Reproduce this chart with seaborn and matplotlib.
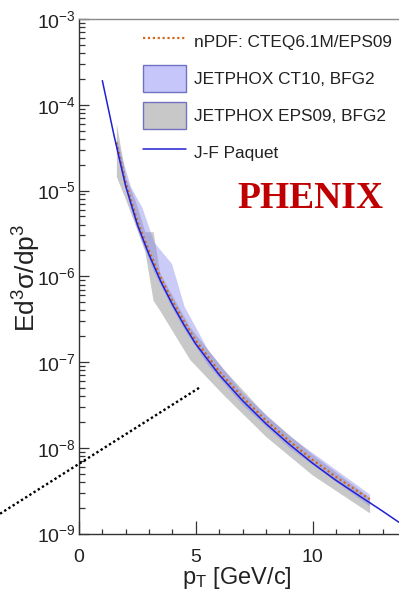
import numpy as np
import pandas as pd
import matplotlib
matplotlib.use("Agg")
import matplotlib.pyplot as plt
import seaborn as sns
from matplotlib.lines import Line2D
from matplotlib.patches import Patch
from matplotlib.ticker import FixedLocator, MultipleLocator, LogLocator, FuncFormatter, NullFormatter

# ---------------- data ----------------
paquet_pt = [1.0, 1.5, 2.0, 2.5, 3.0, 3.5, 4.0, 4.5, 5.0, 6.0, 7.0, 8.0, 9.0,
             10.0, 11.0, 12.0, 13.0, 13.7]
paquet_xs = [1.91e-4, 4.37e-5, 1.12e-5, 3.98e-6, 1.78e-6, 8.7e-7, 4.68e-7, 2.69e-7,
             1.62e-7, 7.1e-8, 3.55e-8, 1.91e-8, 1.10e-8, 6.6e-9, 4.17e-9, 2.75e-9,
             1.82e-9, 1.35e-9]

npdf_pt = [1.6, 2.0, 2.5, 3.0, 3.5, 4.0, 4.5, 5.0, 6.0, 7.0, 8.0, 9.0, 10.0, 11.0,
           12.0, 12.44]
npdf_xs = [3.63e-5, 1.23e-5, 4.37e-6, 1.95e-6, 9.55e-7, 5.13e-7, 2.95e-7, 1.78e-7,
           7.76e-8, 3.89e-8, 2.09e-8, 1.20e-8, 7.24e-9, 4.57e-9, 3.02e-9, 2.51e-9]

eps09_pt = [1.6, 2.0, 2.4, 2.82, 3.17, 3.46, 4.0, 4.74, 6.17, 8.0, 10.0, 12.44]
eps09_hi = [6.03e-5, 1.41e-5, 7.76e-6, 3.31e-6, 3.31e-6, 1.10e-6, 5.89e-7, 2.57e-7,
            8.32e-8, 2.40e-8, 8.32e-9, 2.63e-9]
eps09_lo = [1.45e-5, 7.76e-6, 3.98e-6, 1.95e-6, 5.25e-7, 3.98e-7, 2.29e-7, 1.07e-7,
            4.17e-8, 1.35e-8, 4.79e-9, 1.74e-9]

ct10_pt = [1.6, 2.2, 2.7, 3.2, 3.96, 4.5, 5.5, 7.0, 9.0, 12.44]
ct10_hi = [3.98e-5, 1.12e-5, 6.31e-6, 2.51e-6, 1.41e-6, 4.47e-7, 1.41e-7, 4.37e-8,
           1.38e-8, 2.88e-9]
ct10_lo = [2.82e-5, 6.31e-6, 2.51e-6, 1.12e-6, 4.37e-7, 2.40e-7, 9.33e-8, 3.16e-8,
           1.00e-8, 2.09e-9]

guide_pt = [-3.38, 5.21]
guide_xs = [1.70e-9, 5.13e-8]

legend_labels = ["nPDF: CTEQ6.1M/EPS09", "JETPHOX CT10, BFG2",
                 "JETPHOX EPS09, BFG2", "J-F Paquet"]
x_ticks = [0, 5, 10]

# ---------------- style ----------------
sns.set_theme(style="white")
plt.rcParams["font.family"] = ["Liberation Sans", "DejaVu Sans"]
plt.rcParams["mathtext.fontset"] = "custom"
plt.rcParams["mathtext.rm"] = "Liberation Sans"
plt.rcParams["mathtext.it"] = "Liberation Sans:italic"
plt.rcParams["mathtext.bf"] = "Liberation Sans:bold"
plt.rcParams["mathtext.default"] = "regular"

C_BLUE = "#2020d4"
C_ORANGE = "#d2691e"
C_GRAY = "#c8c8c8"
C_LAV = "#8c8cf0"

fig = plt.figure(figsize=(3.99, 5.90), dpi=100)
ax = fig.add_axes([79 / 399, 1 - 533.5 / 590, 1 - 79 / 399, (533.5 - 19) / 590])

df_p = pd.DataFrame({"pt": paquet_pt, "xs": paquet_xs})
df_n = pd.DataFrame({"pt": npdf_pt, "xs": npdf_xs})

ax.fill_between(eps09_pt, eps09_lo, eps09_hi, color=C_GRAY, lw=0, zorder=1)
ax.fill_between(ct10_pt, ct10_lo, ct10_hi, color=C_LAV, alpha=0.45, lw=0, zorder=2)

sns.lineplot(data=df_n, x="pt", y="xs", ax=ax, color=C_ORANGE, lw=1.6,
             dashes=False, legend=False, zorder=3)
ax.lines[-1].set_dashes((1.0, 1.2))
sns.lineplot(data=df_p, x="pt", y="xs", ax=ax, color=C_BLUE, lw=1.1,
             legend=False, zorder=4)

ax.plot(guide_pt, guide_xs, color="black", lw=1.7, dashes=(1.0, 1.1),
        clip_on=False, zorder=5)

ax.set_yscale("log")
ax.set_xlim(0, 13.70)
ax.set_ylim(1e-9, 1e-3)

ax.xaxis.set_major_locator(FixedLocator(x_ticks))
ax.xaxis.set_minor_locator(MultipleLocator(1))
ax.yaxis.set_major_locator(LogLocator(base=10, numticks=20))
ax.yaxis.set_minor_locator(LogLocator(base=10, subs=np.arange(2, 10), numticks=20))
ax.yaxis.set_minor_formatter(NullFormatter())
ax.yaxis.set_major_formatter(
    FuncFormatter(lambda v, p: r"$10^{%d}$" % int(round(np.log10(v)))))

ax.tick_params(axis="x", which="major", direction="in", length=9.4, width=0.9,
               color="#333333", pad=11.5, labelsize=14, labelcolor="#222222",
               bottom=True, top=False)
ax.tick_params(axis="x", which="minor", direction="in", length=3.8, width=0.9,
               color="#333333", bottom=True, top=False)
ax.tick_params(axis="y", which="major", direction="in", length=7.2, width=0.9,
               color="#333333", pad=2.5, labelsize=14, labelcolor="#222222",
               left=True, right=False)
ax.tick_params(axis="y", which="minor", direction="in", length=4.3, width=0.9,
               color="#333333", left=True, right=False)

for s in ["left", "bottom"]:
    ax.spines[s].set_color("#333333")
    ax.spines[s].set_linewidth(1.0)
ax.spines["top"].set_color("#8a8a8a")
ax.spines["top"].set_linewidth(1.0)
ax.spines["right"].set_visible(False)
ax.set_xlabel("")
ax.set_ylabel("")
ax.xaxis.label.set_visible(False)
ax.yaxis.label.set_visible(False)

handles = [
    Line2D([], [], color=C_ORANGE, lw=1.6, dashes=(1.0, 1.2)),
    Patch(facecolor="#c6c6fa", edgecolor="#7272c4", lw=1.0),
    Patch(facecolor=C_GRAY, edgecolor="#7272c4", lw=1.0),
    Line2D([], [], color=C_BLUE, lw=1.1),
]
ax.legend(handles, legend_labels, loc="upper left",
          bbox_to_anchor=(142.7 / 399, 1 - 28.5 / 590),
          bbox_transform=fig.transFigure, frameon=False, fontsize=12.4,
          handlelength=2.5, handleheight=2.03, labelspacing=0.58,
          handletextpad=0.5, borderpad=0, borderaxespad=0,
          labelcolor="#222222")

fig.text(310.5 / 399, 1 - 208 / 590, "PHENIX", ha="center", va="baseline",
         fontsize=27, family="Liberation Serif", weight="bold", color="#c00000")

fig.text(27 / 399, 1 - 278 / 590, r"Ed$^{3}$σ/dp$^{3}$", rotation=90,
         ha="center", va="center", fontsize=19, color="#222222")
fig.text(181.7 / 399, 1 - 584 / 590, r"p$_{T}$ [GeV/c]", ha="left",
         va="baseline", fontsize=17, color="#222222")

fig.savefig("out.png", dpi=100, facecolor="white")
